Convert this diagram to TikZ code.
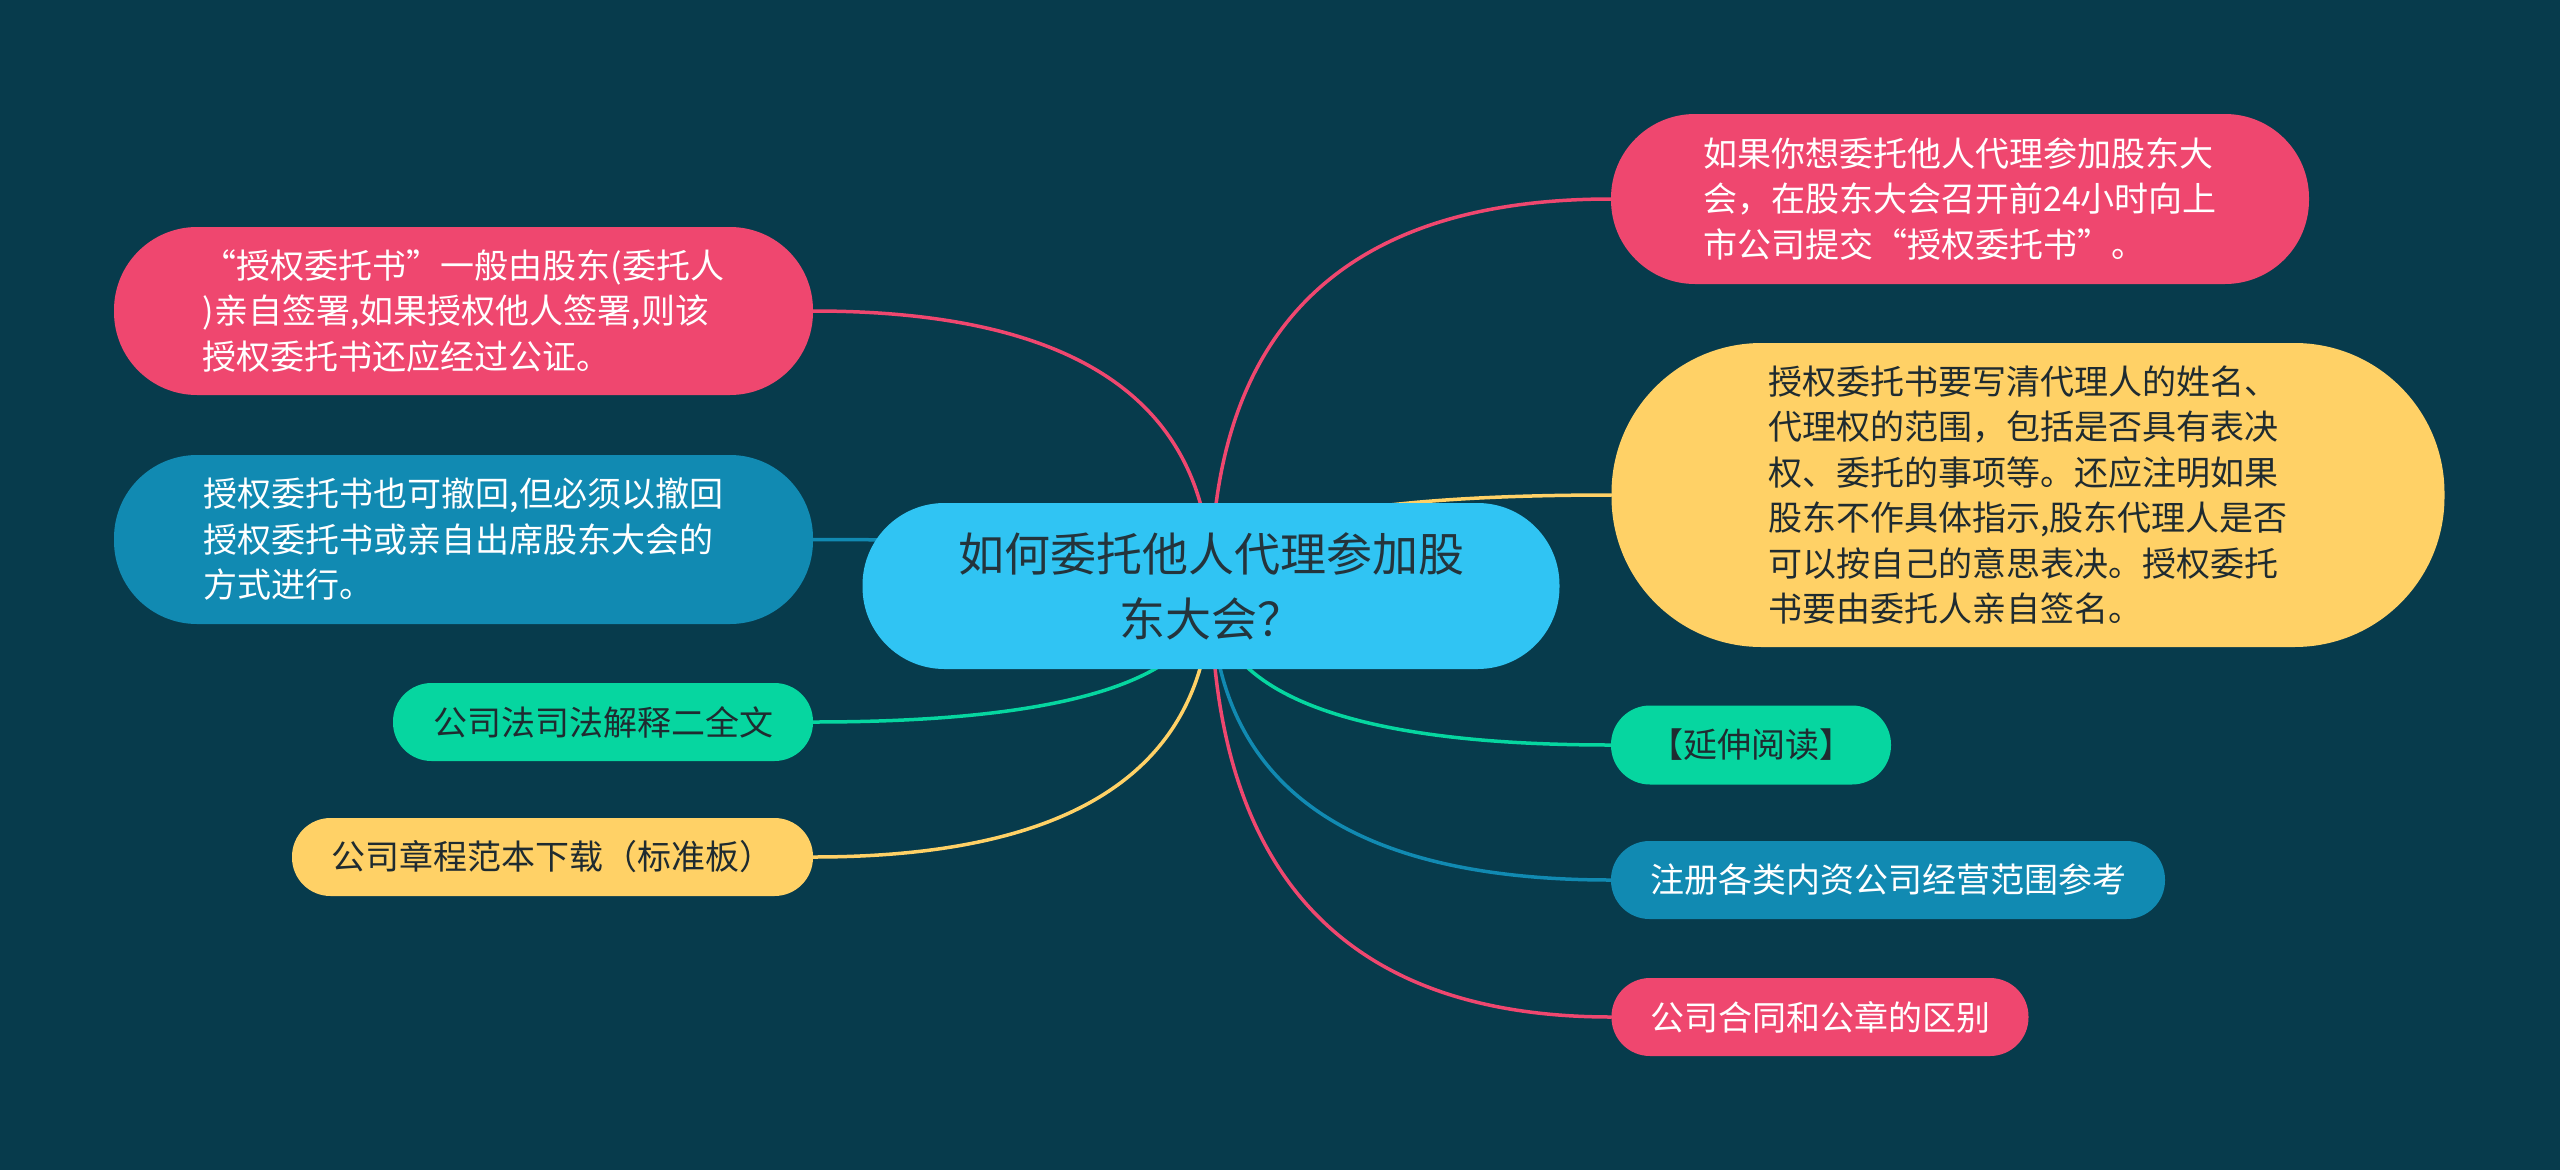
\documentclass[tikz,border=0pt]{standalone}
\usepackage{fontspec}
\setmainfont{Noto Sans CJK SC}
\usetikzlibrary{calc}
\definecolor{bgc}{HTML}{073B4C}
\definecolor{pk}{HTML}{EF476F}
\definecolor{yl}{HTML}{FFD166}
\definecolor{gn}{HTML}{06D6A0}
\definecolor{bl}{HTML}{118AB2}
\definecolor{rt}{HTML}{30C4F3}
\definecolor{dk}{HTML}{1F2B30}
\definecolor{rtx}{HTML}{24343C}
\pgfdeclarelayer{bglayer}
\pgfdeclarelayer{lines}
\pgfsetlayers{bglayer,lines,main}
\begin{document}
\begin{tikzpicture}[x=1pt,y=-1pt,
  box/.style={rectangle, inner sep=0pt, align=left, font=\fontsize{34}{45.5}\selectfont},
  pkn/.style={box, fill=pk, text=white},
  yln/.style={box, fill=yl, text=dk},
  gnn/.style={box, fill=gn, text=dk},
  bln/.style={box, fill=bl, text=white},
  rootn/.style={rectangle, inner sep=0pt, align=center, fill=rt, text=rtx,
    font=\fontsize{46}{65}\selectfont, rounded corners=82},
  conn/.style={line width=3.5pt, line cap=round}]
\useasboundingbox (0,0) rectangle (2560,1170);
\begin{pgfonlayer}{bglayer}
\fill[bgc] (0,0) rectangle (2560,1170);
\end{pgfonlayer}

% root
\node[rootn, minimum width=697, minimum height=166] (c) at (1211,586)
  {如何委托他人代理参加股\\东大会？};

% right side
\node[pkn, minimum width=698, minimum height=170, rounded corners=84] (r1) at (1960,199)
  {如果你想委托他人代理参加股东大\\会，在股东大会召开前24小时向上\\市公司提交“授权委托书”。};
\node[yln, minimum width=833, minimum height=304, rounded corners=150] (r2) at (2028,495)
  {授权委托书要写清代理人的姓名、\\代理权的范围，包括是否具有表决\\权、委托的事项等。还应注明如果\\股东不作具体指示,股东代理人是否\\可以按自己的意思表决。授权委托\\书要由委托人亲自签名。};
\node[gnn, minimum width=280, minimum height=79, rounded corners=39] (r3) at (1751,745)
  {【延伸阅读】};
\node[bln, minimum width=554, minimum height=78, rounded corners=38.5] (r4) at (1888,880)
  {注册各类内资公司经营范围参考};
\node[pkn, minimum width=417, minimum height=78, rounded corners=38.5] (r5) at (1820,1017)
  {公司合同和公章的区别};

% left side
\node[pkn, minimum width=699, minimum height=168, rounded corners=83] (l1) at (463.5,311)
  {“授权委托书”一般由股东(委托人\\)亲自签署,如果授权他人签署,则该\\授权委托书还应经过公证。};
\node[bln, minimum width=699, minimum height=169, rounded corners=83] (l2) at (463.5,539.5)
  {授权委托书也可撤回,但必须以撤回\\授权委托书或亲自出席股东大会的\\方式进行。};
\node[gnn, minimum width=420, minimum height=78, rounded corners=38.5] (l3) at (603,722)
  {公司法司法解释二全文};
\node[yln, minimum width=521, minimum height=78, rounded corners=38.5] (l4) at (552.5,857)
  {公司章程范本下载（标准板）};

% connectors
\begin{pgfonlayer}{lines}
\foreach \t/\a/\col in {r1/west/pk, r2/west/yl, r3/west/gn, r4/west/bl, r5/west/pk,
                        l1/east/pk, l2/east/bl, l3/east/gn, l4/east/yl} {
  \coordinate (k) at (c.center |- \t.\a);
  \draw[conn, draw=\col] (c.center) .. controls ($(c.center)!0.6667!(k)$)
      and ($(\t.\a)!0.6667!(k)$) .. (\t.\a);
}
\end{pgfonlayer}
\end{tikzpicture}
\end{document}
